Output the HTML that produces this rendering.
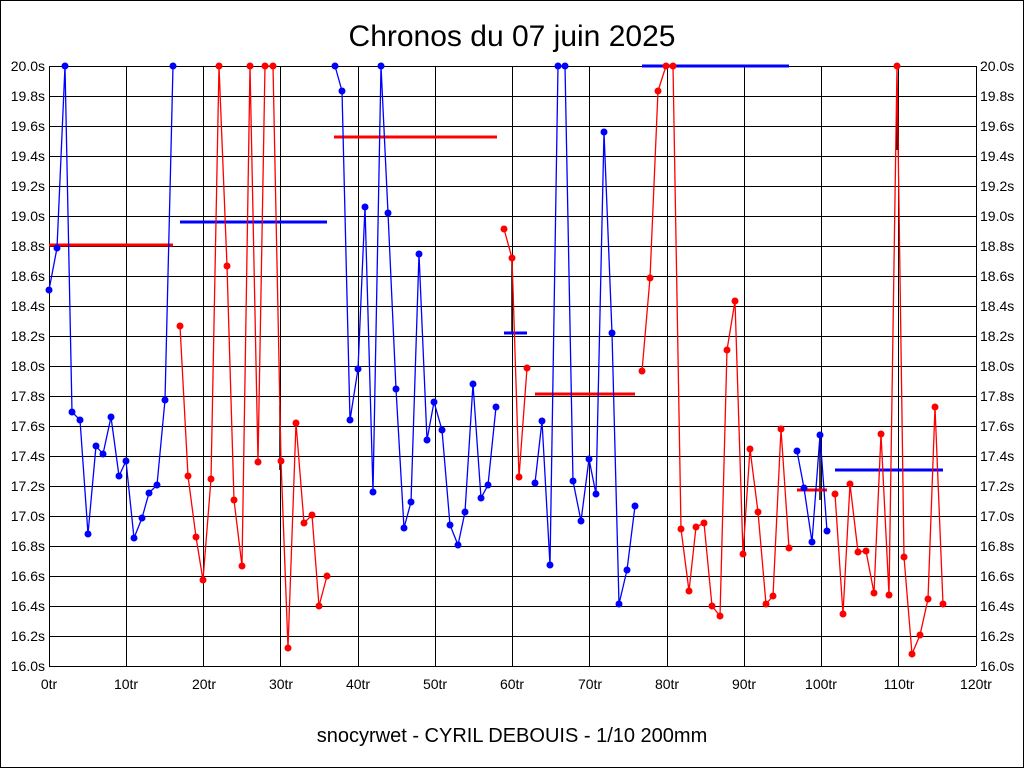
<!DOCTYPE html>
<html><head><meta charset="utf-8"><style>
html,body{margin:0;padding:0;background:#fff}
svg{display:block}
text{font-family:"Liberation Sans",Arial,sans-serif;fill:#000}
</style></head><body>
<svg width="1024" height="768" viewBox="0 0 1024 768" xmlns="http://www.w3.org/2000/svg">
<rect x="0.5" y="0.5" width="1023" height="767" fill="#fff" stroke="#000"/>
<text x="512" y="46" font-size="30" text-anchor="middle">Chronos du 07 juin 2025</text>
<text x="512" y="742" font-size="20" text-anchor="middle">snocyrwet - CYRIL DEBOUIS - 1/10 200mm</text>
<g stroke="#000" stroke-width="1">
<path d="M49,66.5H976M49,96.5H976M49,126.5H976M49,156.5H976M49,186.5H976M49,216.5H976M49,246.5H976M49,276.5H976M49,306.5H976M49,336.5H976M49,366.5H976M49,396.5H976M49,426.5H976M49,456.5H976M49,486.5H976M49,516.5H976M49,546.5H976M49,576.5H976M49,606.5H976M49,636.5H976M49,666.5H976"/>
<path d="M49.5,66V666M126.5,66V666M203.5,66V666M280.5,66V666M358.5,66V666M435.5,66V666M512.5,66V666M589.5,66V666M667.5,66V666M744.5,66V666M821.5,66V666M898.5,66V666M976.5,66V666"/>
</g>
<g font-size="14" text-anchor="end">
<text x="45" y="71">20.0s</text><text x="45" y="101">19.8s</text><text x="45" y="131">19.6s</text><text x="45" y="161">19.4s</text><text x="45" y="191">19.2s</text><text x="45" y="221">19.0s</text><text x="45" y="251">18.8s</text><text x="45" y="281">18.6s</text><text x="45" y="311">18.4s</text><text x="45" y="341">18.2s</text><text x="45" y="371">18.0s</text><text x="45" y="401">17.8s</text><text x="45" y="431">17.6s</text><text x="45" y="461">17.4s</text><text x="45" y="491">17.2s</text><text x="45" y="521">17.0s</text><text x="45" y="551">16.8s</text><text x="45" y="581">16.6s</text><text x="45" y="611">16.4s</text><text x="45" y="641">16.2s</text><text x="45" y="671">16.0s</text>
</g>
<g font-size="14" text-anchor="start">
<text x="980" y="71">20.0s</text><text x="980" y="101">19.8s</text><text x="980" y="131">19.6s</text><text x="980" y="161">19.4s</text><text x="980" y="191">19.2s</text><text x="980" y="221">19.0s</text><text x="980" y="251">18.8s</text><text x="980" y="281">18.6s</text><text x="980" y="311">18.4s</text><text x="980" y="341">18.2s</text><text x="980" y="371">18.0s</text><text x="980" y="401">17.8s</text><text x="980" y="431">17.6s</text><text x="980" y="461">17.4s</text><text x="980" y="491">17.2s</text><text x="980" y="521">17.0s</text><text x="980" y="551">16.8s</text><text x="980" y="581">16.6s</text><text x="980" y="611">16.4s</text><text x="980" y="641">16.2s</text><text x="980" y="671">16.0s</text>
</g>
<g font-size="14" text-anchor="middle">
<text x="49" y="689">0tr</text><text x="126" y="689">10tr</text><text x="204" y="689">20tr</text><text x="281" y="689">30tr</text><text x="358" y="689">40tr</text><text x="435" y="689">50tr</text><text x="512" y="689">60tr</text><text x="590" y="689">70tr</text><text x="667" y="689">80tr</text><text x="744" y="689">90tr</text><text x="821" y="689">100tr</text><text x="899" y="689">110tr</text><text x="976" y="689">120tr</text>
</g>
<g stroke="#000" stroke-width="1.5">
<path d="M512,258V333M280,405V470M897,93V150M820,435V500"/>
</g>
<g stroke-width="3">
<path d="M49,245H173" stroke="#f00"/>
<path d="M180,222H327" stroke="#00f"/>
<path d="M334,137H497" stroke="#f00"/>
<path d="M504,333H527" stroke="#00f"/>
<path d="M535,394H635" stroke="#f00"/>
<path d="M642,66H789" stroke="#00f"/>
<path d="M797,490H827" stroke="#f00"/>
<path d="M835,470H943" stroke="#00f"/>
</g>
<g fill="none" stroke-width="1.3">
<polyline stroke="#00f" points="49,290 57,248 65,66 72,412 80,420 88,534 96,446 103,454 111,417 119,476 126,461 134,538 142,518 149,493 157,485 165,400 173,66"/>
<polyline stroke="#f00" points="180,326 188,476 196,537 203,580 211,479 219,66 227,266 234,500 242,566 250,66 258,462 265,66 273,66 281,461 288,648 296,423 304,523 312,515 319,606 327,576"/>
<polyline stroke="#00f" points="335,66 342,91 350,420 358,369 365,207 373,492 381,66 388,213 396,389 404,528 411,502 419,254 427,440 434,402 442,430 450,525 458,545 465,512 473,384 481,498 488,485 496,407"/>
<polyline stroke="#f00" points="504,229 512,258 519,477 527,368"/>
<polyline stroke="#00f" points="535,483 542,421 550,565 558,66 565,66 573,481 581,521 589,459 596,494 604,132 612,333 619,604 627,570 635,506"/>
<polyline stroke="#f00" points="642,371 650,278 658,91 666,66 673,66 681,529 689,591 696,527 704,523 712,606 720,616 727,350 735,301 743,554 750,449 758,512 766,604 773,596 781,429 789,548"/>
<polyline stroke="#00f" points="797,451 804,488 812,542 820,435 827,531"/>
<polyline stroke="#f00" points="835,494 843,614 850,484 858,552 866,551 874,593 881,434 889,595 897,66 904,557 912,654 920,635 928,599 935,407 943,604"/>
</g>
<g fill="#00f">
<circle cx="49" cy="290" r="3.5"/><circle cx="57" cy="248" r="3.5"/><circle cx="65" cy="66" r="3.5"/><circle cx="72" cy="412" r="3.5"/><circle cx="80" cy="420" r="3.5"/><circle cx="88" cy="534" r="3.5"/><circle cx="96" cy="446" r="3.5"/><circle cx="103" cy="454" r="3.5"/><circle cx="111" cy="417" r="3.5"/><circle cx="119" cy="476" r="3.5"/><circle cx="126" cy="461" r="3.5"/><circle cx="134" cy="538" r="3.5"/><circle cx="142" cy="518" r="3.5"/><circle cx="149" cy="493" r="3.5"/><circle cx="157" cy="485" r="3.5"/><circle cx="165" cy="400" r="3.5"/><circle cx="173" cy="66" r="3.5"/>
<circle cx="335" cy="66" r="3.5"/><circle cx="342" cy="91" r="3.5"/><circle cx="350" cy="420" r="3.5"/><circle cx="358" cy="369" r="3.5"/><circle cx="365" cy="207" r="3.5"/><circle cx="373" cy="492" r="3.5"/><circle cx="381" cy="66" r="3.5"/><circle cx="388" cy="213" r="3.5"/><circle cx="396" cy="389" r="3.5"/><circle cx="404" cy="528" r="3.5"/><circle cx="411" cy="502" r="3.5"/><circle cx="419" cy="254" r="3.5"/><circle cx="427" cy="440" r="3.5"/><circle cx="434" cy="402" r="3.5"/><circle cx="442" cy="430" r="3.5"/><circle cx="450" cy="525" r="3.5"/><circle cx="458" cy="545" r="3.5"/><circle cx="465" cy="512" r="3.5"/><circle cx="473" cy="384" r="3.5"/><circle cx="481" cy="498" r="3.5"/><circle cx="488" cy="485" r="3.5"/><circle cx="496" cy="407" r="3.5"/>
<circle cx="535" cy="483" r="3.5"/><circle cx="542" cy="421" r="3.5"/><circle cx="550" cy="565" r="3.5"/><circle cx="558" cy="66" r="3.5"/><circle cx="565" cy="66" r="3.5"/><circle cx="573" cy="481" r="3.5"/><circle cx="581" cy="521" r="3.5"/><circle cx="589" cy="459" r="3.5"/><circle cx="596" cy="494" r="3.5"/><circle cx="604" cy="132" r="3.5"/><circle cx="612" cy="333" r="3.5"/><circle cx="619" cy="604" r="3.5"/><circle cx="627" cy="570" r="3.5"/><circle cx="635" cy="506" r="3.5"/>
<circle cx="797" cy="451" r="3.5"/><circle cx="804" cy="488" r="3.5"/><circle cx="812" cy="542" r="3.5"/><circle cx="820" cy="435" r="3.5"/><circle cx="827" cy="531" r="3.5"/>
</g>
<g fill="#f00">
<circle cx="180" cy="326" r="3.5"/><circle cx="188" cy="476" r="3.5"/><circle cx="196" cy="537" r="3.5"/><circle cx="203" cy="580" r="3.5"/><circle cx="211" cy="479" r="3.5"/><circle cx="219" cy="66" r="3.5"/><circle cx="227" cy="266" r="3.5"/><circle cx="234" cy="500" r="3.5"/><circle cx="242" cy="566" r="3.5"/><circle cx="250" cy="66" r="3.5"/><circle cx="258" cy="462" r="3.5"/><circle cx="265" cy="66" r="3.5"/><circle cx="273" cy="66" r="3.5"/><circle cx="281" cy="461" r="3.5"/><circle cx="288" cy="648" r="3.5"/><circle cx="296" cy="423" r="3.5"/><circle cx="304" cy="523" r="3.5"/><circle cx="312" cy="515" r="3.5"/><circle cx="319" cy="606" r="3.5"/><circle cx="327" cy="576" r="3.5"/>
<circle cx="504" cy="229" r="3.5"/><circle cx="512" cy="258" r="3.5"/><circle cx="519" cy="477" r="3.5"/><circle cx="527" cy="368" r="3.5"/>
<circle cx="642" cy="371" r="3.5"/><circle cx="650" cy="278" r="3.5"/><circle cx="658" cy="91" r="3.5"/><circle cx="666" cy="66" r="3.5"/><circle cx="673" cy="66" r="3.5"/><circle cx="681" cy="529" r="3.5"/><circle cx="689" cy="591" r="3.5"/><circle cx="696" cy="527" r="3.5"/><circle cx="704" cy="523" r="3.5"/><circle cx="712" cy="606" r="3.5"/><circle cx="720" cy="616" r="3.5"/><circle cx="727" cy="350" r="3.5"/><circle cx="735" cy="301" r="3.5"/><circle cx="743" cy="554" r="3.5"/><circle cx="750" cy="449" r="3.5"/><circle cx="758" cy="512" r="3.5"/><circle cx="766" cy="604" r="3.5"/><circle cx="773" cy="596" r="3.5"/><circle cx="781" cy="429" r="3.5"/><circle cx="789" cy="548" r="3.5"/>
<circle cx="835" cy="494" r="3.5"/><circle cx="843" cy="614" r="3.5"/><circle cx="850" cy="484" r="3.5"/><circle cx="858" cy="552" r="3.5"/><circle cx="866" cy="551" r="3.5"/><circle cx="874" cy="593" r="3.5"/><circle cx="881" cy="434" r="3.5"/><circle cx="889" cy="595" r="3.5"/><circle cx="897" cy="66" r="3.5"/><circle cx="904" cy="557" r="3.5"/><circle cx="912" cy="654" r="3.5"/><circle cx="920" cy="635" r="3.5"/><circle cx="928" cy="599" r="3.5"/><circle cx="935" cy="407" r="3.5"/><circle cx="943" cy="604" r="3.5"/>
</g>
</svg>
</body></html>
